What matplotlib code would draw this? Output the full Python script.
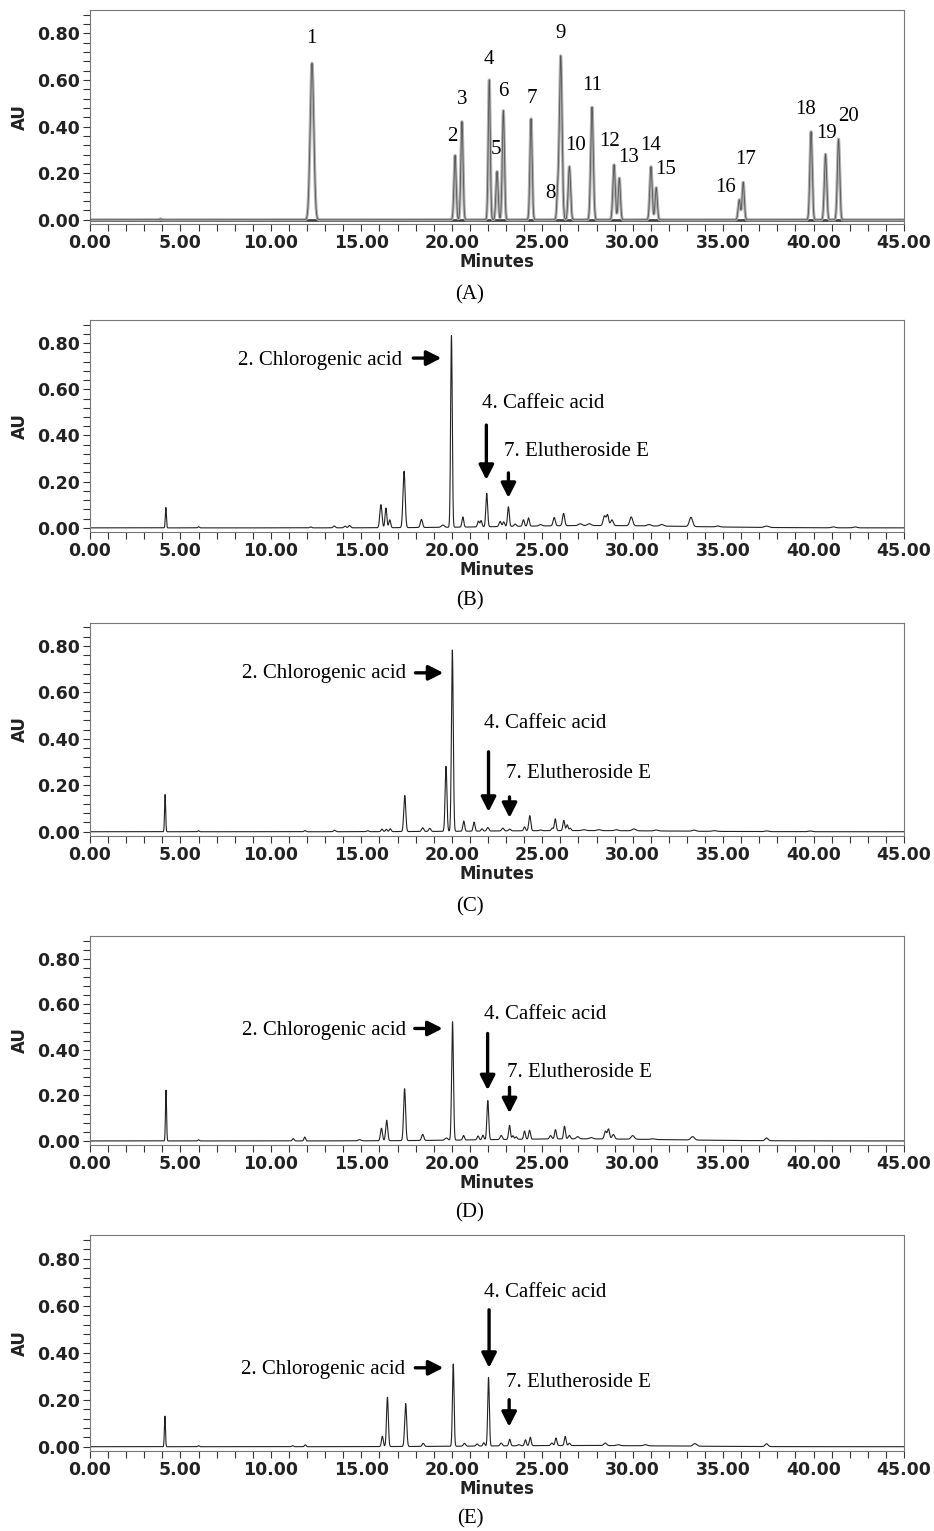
import numpy as np
import matplotlib.pyplot as plt

# Panel A - standard mixture, 20 numbered peaks
a_rt = [12.27, 20.18, 20.56, 22.07, 22.50, 22.85, 24.38, 25.85, 26.02, 26.50,
        27.75, 28.97, 29.26, 31.01, 31.30, 35.89, 36.11, 39.86, 40.66, 41.38, 3.9]
a_h = [0.671, 0.276, 0.421, 0.600, 0.207, 0.468, 0.433, 0.100, 0.703, 0.228,
       0.483, 0.236, 0.179, 0.228, 0.138, 0.086, 0.161, 0.378, 0.281, 0.346, 0.004]
a_w = [0.10, 0.06, 0.06, 0.055, 0.06, 0.06, 0.06, 0.05, 0.075, 0.065,
       0.07, 0.065, 0.06, 0.065, 0.06, 0.06, 0.06, 0.065, 0.065, 0.065, 0.05]
a_labels = [str(i) for i in range(1, 21)]
a_lab_t = [12.23, 20.01, 20.56, 22.03, 22.44, 22.85, 24.41, 25.48, 26.03, 26.86,
           27.75, 28.70, 29.75, 31.01, 31.80, 35.12, 36.22, 39.58, 40.69, 41.93]
a_lab_y = [0.779, 0.357, 0.514, 0.686, 0.300, 0.550, 0.521, 0.114, 0.797, 0.317,
           0.574, 0.335, 0.267, 0.318, 0.217, 0.140, 0.257, 0.471, 0.369, 0.445]

# Panel B
b_rt = [4.19, 6.0, 12.2, 13.5, 14.1, 14.35, 16.08, 16.36, 16.57, 17.36, 18.32, 19.5,
        19.98, 20.61, 21.47, 21.62, 21.93, 22.67, 22.87, 23.13, 23.50, 23.96, 24.24,
        24.9, 25.66, 26.18, 27.1, 27.6, 28.44, 28.61, 28.85, 29.92, 30.9, 31.6, 33.22,
        34.7, 37.4, 41.1, 42.3, 28.0]
b_h = [0.088, 0.005, 0.004, 0.008, 0.007, 0.01, 0.100, 0.085, 0.034, 0.244, 0.035, 0.01,
       0.83, 0.044, 0.025, 0.027, 0.145, 0.022, 0.02, 0.085, 0.01, 0.028, 0.036,
       0.006, 0.036, 0.053, 0.008, 0.008, 0.042, 0.046, 0.025, 0.038, 0.006, 0.007, 0.04,
       0.004, 0.006, 0.004, 0.004, 0.010]
b_w = [0.03, 0.04, 0.05, 0.06, 0.06, 0.06, 0.06, 0.05, 0.05, 0.06, 0.06, 0.08,
       0.045, 0.05, 0.05, 0.05, 0.05, 0.06, 0.05, 0.05, 0.06, 0.05, 0.05,
       0.08, 0.06, 0.06, 0.1, 0.1, 0.07, 0.06, 0.07, 0.08, 0.1, 0.1, 0.09,
       0.1, 0.12, 0.1, 0.1, 5.0]

# Panel C
c_rt = [4.15, 6.0, 11.88, 13.52, 15.35, 16.14, 16.38, 16.6, 17.40, 18.39, 18.78, 19.68,
        20.03, 20.66, 21.23, 21.67, 21.99, 22.82, 23.2, 24.02, 24.31, 24.9, 25.55, 25.72,
        26.19, 26.38, 26.55, 27.3, 28.13, 29.1, 30.07, 31.3, 33.39, 34.5, 37.4, 39.8, 27.0]
c_h = [0.16, 0.004, 0.005, 0.006, 0.004, 0.011, 0.010, 0.012, 0.155, 0.016, 0.013, 0.28,
       0.78, 0.044, 0.039, 0.01, 0.015, 0.012, 0.007, 0.017, 0.065, 0.003, 0.011, 0.051,
       0.044, 0.025, 0.01, 0.004, 0.004, 0.004, 0.008, 0.004, 0.005, 0.003, 0.003, 0.003, 0.005]
c_w = [0.03, 0.04, 0.05, 0.06, 0.06, 0.05, 0.05, 0.05, 0.055, 0.06, 0.06, 0.05,
       0.05, 0.05, 0.05, 0.05, 0.06, 0.06, 0.06, 0.05, 0.055, 0.06, 0.05, 0.05,
       0.05, 0.05, 0.05, 0.1, 0.1, 0.1, 0.1, 0.1, 0.1, 0.1, 0.1, 0.1, 5.0]

# Panel D
d_rt = [4.2, 6.0, 11.23, 11.87, 14.9, 16.11, 16.40, 17.39, 18.39, 19.7, 20.04, 20.65,
        21.45, 21.72, 21.99, 22.73, 23.19, 23.38, 23.56, 24.02, 24.30, 25.46, 25.73, 26.23,
        26.5, 26.96, 27.7, 28.49, 28.66, 28.93, 30.0, 31.1, 33.31, 37.4, 27.0]
d_h = [0.223, 0.005, 0.010, 0.017, 0.005, 0.055, 0.09, 0.228, 0.027, 0.01, 0.52, 0.02,
       0.017, 0.02, 0.172, 0.018, 0.062, 0.016, 0.011, 0.036, 0.039, 0.015, 0.041, 0.056,
       0.015, 0.01, 0.006, 0.034, 0.044, 0.02, 0.016, 0.003, 0.015, 0.012, 0.009]
d_w = [0.03, 0.04, 0.05, 0.045, 0.08, 0.055, 0.055, 0.055, 0.06, 0.08, 0.05, 0.05,
       0.05, 0.05, 0.05, 0.06, 0.05, 0.05, 0.05, 0.05, 0.05, 0.06, 0.05, 0.05,
       0.06, 0.08, 0.1, 0.06, 0.06, 0.07, 0.09, 0.1, 0.1, 0.08, 5.0]

# Panel E
e_rt = [4.14, 6.0, 11.2, 11.9, 16.16, 16.44, 17.45, 18.42, 20.08, 20.7, 21.4, 21.77,
        22.03, 22.73, 23.20, 23.7, 24.07, 24.34, 25.53, 25.76, 26.27, 26.5, 28.48, 29.2,
        30.7, 33.44, 37.4, 27.0]
e_h = [0.13, 0.004, 0.004, 0.008, 0.044, 0.21, 0.183, 0.013, 0.35, 0.012, 0.009, 0.014,
       0.292, 0.012, 0.028, 0.005, 0.025, 0.036, 0.011, 0.032, 0.039, 0.01, 0.011, 0.004,
       0.005, 0.011, 0.012, 0.005]
e_w = [0.03, 0.04, 0.05, 0.045, 0.05, 0.05, 0.055, 0.06, 0.045, 0.06, 0.06, 0.05,
       0.045, 0.06, 0.05, 0.06, 0.05, 0.05, 0.06, 0.05, 0.05, 0.05, 0.08, 0.1,
       0.1, 0.1, 0.08, 5.0]

# compound labels: (text x, text y, arrow tail x, tail y, head x, head y)
b_notes = [(8.19, 0.726, 17.87, 0.735, 19.42, 0.735),
           (21.69, 0.540, 21.91, 0.445, 21.91, 0.208),
           (22.86, 0.329, 23.13, 0.238, 23.13, 0.130)]
c_notes = [(8.41, 0.680, 17.99, 0.684, 19.53, 0.684),
           (21.80, 0.465, 22.03, 0.344, 22.03, 0.086),
           (23.02, 0.249, 23.19, 0.150, 23.19, 0.060)]
d_notes = [(8.39, 0.485, 17.95, 0.494, 19.49, 0.494),
           (21.76, 0.555, 21.98, 0.472, 21.98, 0.223),
           (23.03, 0.302, 23.19, 0.236, 23.19, 0.122)]
e_notes = [(8.33, 0.328, 17.98, 0.336, 19.53, 0.336),
           (21.79, 0.655, 22.06, 0.583, 22.06, 0.336),
           (23.00, 0.272, 23.17, 0.200, 23.17, 0.085)]
note_texts = ["2. Chlorogenic acid", "4. Caffeic acid", "7. Elutheroside E"]

t = np.linspace(0, 45, 18001)


def trace(rt, h, w):
    y = np.zeros_like(t)
    for r, hh, ww in zip(rt, h, w):
        y += hh * np.exp(-0.5 * ((t - r) / ww) ** 2)
    return y


def style_axes(ax):
    ax.set_xlim(0, 45)
    ax.set_ylim(-0.018, 0.90)
    ax.set_xticks(np.arange(0, 46, 5))
    ax.set_xticks(np.arange(0, 46, 1), minor=True)
    ax.set_yticks(np.arange(0, 0.81, 0.2))
    ax.set_yticks(np.arange(0, 0.89, 0.04), minor=True)
    ax.set_xticklabels(["%.2f" % v for v in np.arange(0, 46, 5)])
    ax.set_yticklabels(["%.2f" % v for v in np.arange(0, 0.81, 0.2)])
    ax.tick_params(which='both', direction='out', length=5, width=0.8, color='#333333',
                   labelsize=12.5, pad=2)
    for lab in ax.get_xticklabels() + ax.get_yticklabels():
        lab.set_fontweight('bold')
        lab.set_color('#222222')
    for sp in ax.spines.values():
        sp.set_color('#777777')
        sp.set_linewidth(0.8)
    ax.set_xlabel("Minutes", fontsize=12, fontweight='bold', color='#222222', labelpad=1)
    ax.set_ylabel("AU", fontsize=12, fontweight='bold', color='#222222', labelpad=6)


fig = plt.figure(figsize=(9.34, 15.31), dpi=100)
left, width = 0.0964, 0.8715
rects = [(0.8537, 0.1398), (0.6525, 0.1385), (0.4540, 0.1393), (0.2521, 0.1365), (0.0523, 0.1408)]
caption_y = [295, 601, 907, 1213, 1519]
captions = ["(A)", "(B)", "(C)", "(D)", "(E)"]
serif = 'Liberation Serif'

axes = [fig.add_axes([left, b, width, h]) for b, h in rects]

# A
ax = axes[0]
ya = trace(a_rt, a_h, a_w)
ax.axhline(0, color='#444444', lw=2.0, zorder=1)
ax.plot(t, ya, color='#b0b0b0', lw=2.2, zorder=2)
ax.plot(t, ya, color='#555555', lw=0.6, zorder=3)
for s, x, y in zip(a_labels, a_lab_t, a_lab_y):
    ax.text(x, y, s, fontsize=15, family=serif, ha='center', va='center')
style_axes(ax)

panels = [(b_rt, b_h, b_w, b_notes), (c_rt, c_h, c_w, c_notes),
          (d_rt, d_h, d_w, d_notes), (e_rt, e_h, e_w, e_notes)]
for ax, (rt, h, w, notes) in zip(axes[1:], panels):
    ax.plot(t, trace(rt, h, w), color='#222222', lw=0.8)
    for s, (tx, ty, x0, y0, x1, y1) in zip(note_texts, notes):
        ax.text(tx, ty, s, fontsize=15, family=serif, ha='left', va='center')
        ax.annotate('', xy=(x1, y1), xytext=(x0, y0),
                    arrowprops=dict(arrowstyle='-|>,head_length=0.55,head_width=0.28',
                                    color='black', lw=2.4, mutation_scale=16,
                                    shrinkA=0, shrinkB=0))
    style_axes(ax)

for cap, yy in zip(captions, caption_y):
    fig.text(470 / 934, 1 - yy / 1531, cap, fontsize=15, family=serif, ha='center', va='center')

fig.savefig("out.png", dpi=100)
